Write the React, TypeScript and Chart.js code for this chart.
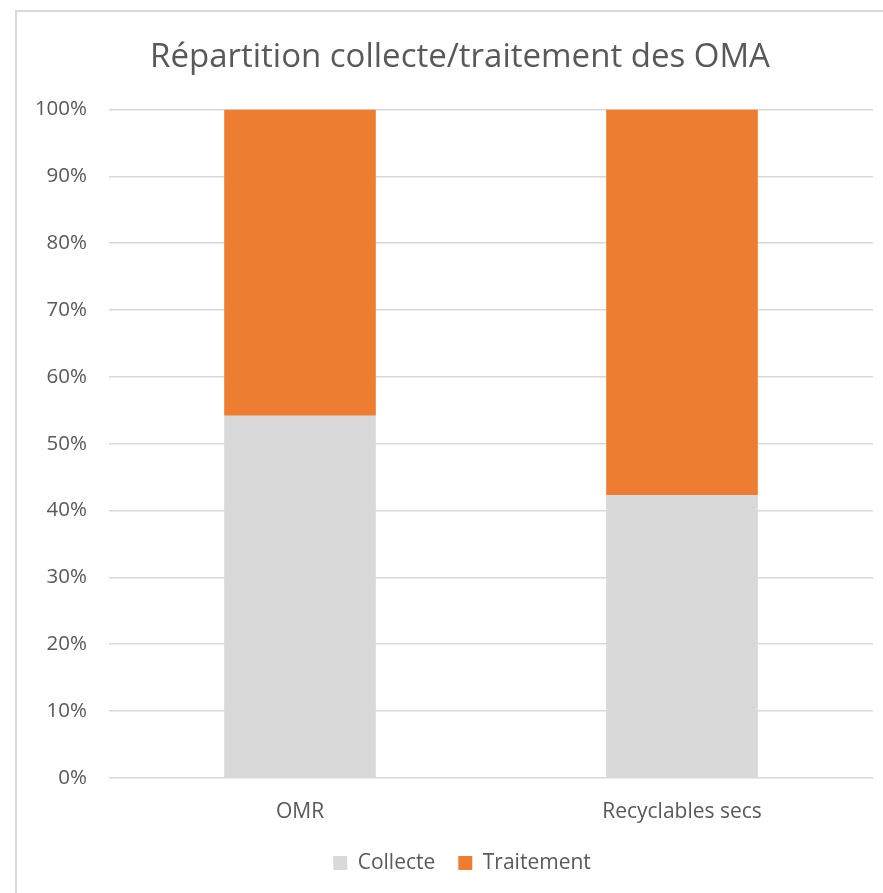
import React, { useEffect, useRef } from "react";
import { Chart, registerables } from "chart.js";

Chart.register(...registerables);

const categories = ["OMR", "Recyclables secs"];
const collecte = [54.2, 42.3];
const traitement = [45.8, 57.7];
const seriesNames = ["Collecte", "Traitement"];
const title = "Répartition collecte/traitement des OMA";

const FONT = "'Open Sans', sans-serif";
const TEXT = "#595959";

const boxShift = {
  id: "boxShift",
  afterLayout(chart: any) {
    const lg = chart.legend;
    if (lg) {
      lg.top -= 17.5;
      lg.bottom -= 17.5;
      lg.left += 18;
      lg.right += 18;
    }
    const tb = chart.titleBlock;
    if (tb) {
      tb.left += 16;
      tb.right += 16;
    }
  },
};

export default function App() {
  const ref = useRef<HTMLCanvasElement | null>(null);
  useEffect(() => {
    if (!ref.current) return;
    const chart = new Chart(ref.current, {
      type: "bar",
      data: {
        labels: categories,
        datasets: [
          { label: seriesNames[0], data: collecte, backgroundColor: "#D9D9D9", borderWidth: 0 },
          { label: seriesNames[1], data: traitement, backgroundColor: "#ED7D31", borderWidth: 0 },
        ],
      },
      plugins: [boxShift],
      options: {
        animation: false,
        responsive: false,
        maintainAspectRatio: false,
        layout: { padding: { left: 0, right: 32, top: 0, bottom: 9 } },
        datasets: { bar: { barPercentage: 1, categoryPercentage: 0.397 } },
        plugins: {
          title: {
            display: true,
            text: title,
            color: TEXT,
            font: { family: FONT, size: 33, weight: "normal" },
            padding: { top: 28, bottom: 32 },
          },
          legend: {
            position: "bottom",
            labels: {
              color: TEXT,
              font: { family: FONT, size: 21 },
              boxWidth: 14,
              boxHeight: 14,
              padding: 23,
            },
          },
          tooltip: { enabled: false },
        },
        scales: {
          x: {
            stacked: true,
            grid: { display: false, drawTicks: false },
            border: { display: false },
            ticks: { color: TEXT, font: { family: FONT, size: 21 }, padding: 22 },
          },
          y: {
            stacked: true,
            min: 0,
            max: 100,
            grid: { color: "#D9D9D9", lineWidth: 1.5, drawTicks: false },
            border: { display: false },
            ticks: {
              stepSize: 10,
              color: TEXT,
              font: { family: FONT, size: 20.5 },
              padding: 22,
              callback: (v: any) => `${v}%`,
            },
            afterFit: (scale: any) => {
              scale.width = 94;
            },
          },
        },
      },
    });
    return () => chart.destroy();
  }, []);

  return (
    <div style={{ position: "absolute", left: 0, top: 0, width: 883, height: 893, overflow: "hidden", background: "#fff" }}>
      <div
        style={{
          position: "absolute",
          left: 15,
          top: 10,
          width: 900,
          height: 900,
          border: "2px solid #D9D9D9",
          boxSizing: "border-box",
        }}
      />
      <canvas ref={ref} width={890} height={900} style={{ position: "absolute", left: 15, top: 10, width: 890, height: 900 }} />
    </div>
  );
}
